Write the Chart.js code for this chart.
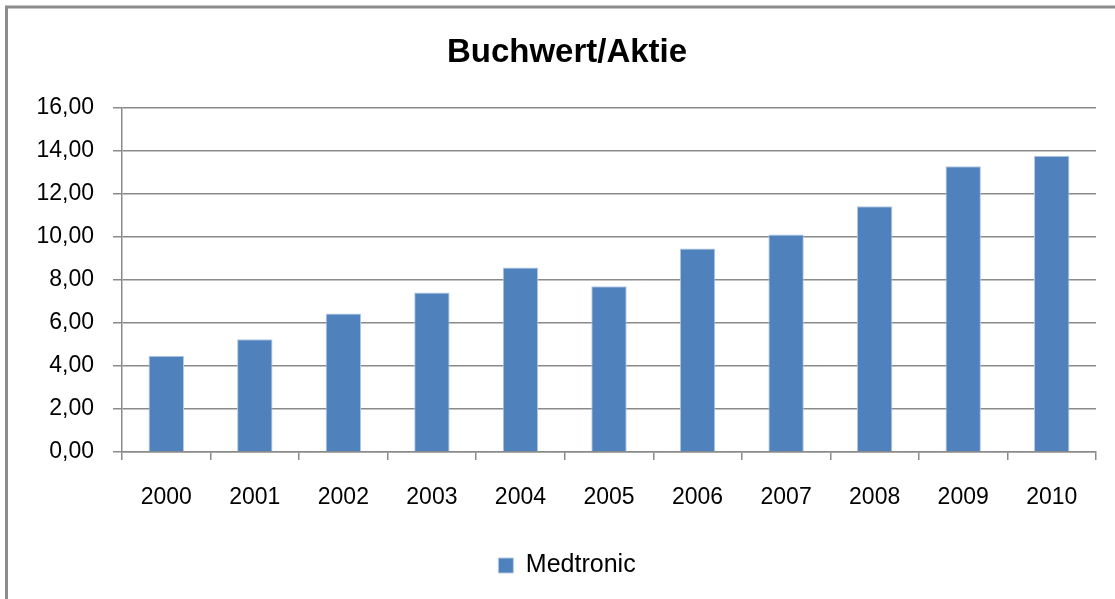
<!DOCTYPE html>
<html>
<head>
<meta charset="utf-8">
<script src="https://cdn.jsdelivr.net/npm/chart.js@4/dist/chart.umd.min.js"></script>
<style>
  html, body { margin: 0; padding: 0; background: #fff; }
  canvas { display: block; }
</style>
</head>
<body>
<canvas id="chart" width="1115" height="599"></canvas>
<script>
// data
const years = ['2000', '2001', '2002', '2003', '2004', '2005', '2006', '2007', '2008', '2009', '2010'];
const bookValue = [4.47, 5.24, 6.43, 7.41, 8.57, 7.70, 9.45, 10.10, 11.42, 13.28, 13.76];
const seriesName = 'Medtronic';
const chartTitle = 'Buchwert/Aktie';

const gridGray = '#8a8a8a';
const fontFamily = '"Liberation Sans", Arial, sans-serif';

// grey frame of the chart object (only top and left are visible)
const framePlugin = {
    id: 'frame',
    beforeDraw(chart) {
        const ctx = chart.ctx;
        ctx.save();
        ctx.fillStyle = '#ffffff';
        ctx.fillRect(0, 0, chart.width, chart.height);
        ctx.strokeStyle = '#8c8c8c';
        ctx.lineWidth = 3;
        ctx.beginPath();
        ctx.moveTo(6.5, chart.height);
        ctx.lineTo(6.5, 7);
        ctx.lineTo(chart.width, 7);
        ctx.stroke();
        ctx.restore();
    }
};

const ctx = document.getElementById('chart').getContext('2d');
new Chart(ctx, {
    type: 'bar',
    data: {
        labels: years,
        datasets: [{
            label: seriesName,
            data: bookValue,
            backgroundColor: '#4F81BD',
            borderColor: '#B4C8E4',
            borderWidth: 1,
            barPercentage: 0.4,
            categoryPercentage: 1.0
        }]
    },
    options: {
        responsive: false,
        animation: false,
        devicePixelRatio: 1,
        layout: {
            padding: { left: 38, right: 19, top: 0, bottom: 11 }
        },
        plugins: {
            title: {
                display: true,
                text: chartTitle,
                color: '#000',
                font: { family: fontFamily, size: 33, weight: 'bold' },
                padding: { top: 33, bottom: 35 }
            },
            legend: {
                position: 'bottom',
                labels: {
                    color: '#000',
                    font: { family: fontFamily, size: 25 },
                    boxWidth: 15,
                    boxHeight: 15,
                    padding: 10
                }
            },
            tooltip: { enabled: false }
        },
        scales: {
            x: {
                offset: true,
                grid: {
                    offset: true,
                    drawOnChartArea: false,
                    drawTicks: true,
                    tickLength: 8,
                    color: gridGray,
                    lineWidth: 1.5
                },
                border: { color: gridGray, width: 1.5 },
                ticks: {
                    color: '#000',
                    font: { family: fontFamily, size: 23 },
                    padding: 24,
                    maxRotation: 0
                },
                afterFit(scale) { scale.height = 91; }
            },
            y: {
                min: 0,
                max: 16,
                grid: {
                    color: gridGray,
                    lineWidth: 1.5,
                    drawTicks: true,
                    tickLength: 9
                },
                border: { color: gridGray, width: 1.5 },
                ticks: {
                    stepSize: 2,
                    color: '#000',
                    font: { family: fontFamily, size: 23 },
                    padding: 19,
                    callback: v => v.toFixed(2).replace('.', ',')
                },
                afterFit(scale) { scale.width = 84; }
            }
        }
    },
    plugins: [framePlugin]
});
</script>
</body>
</html>
